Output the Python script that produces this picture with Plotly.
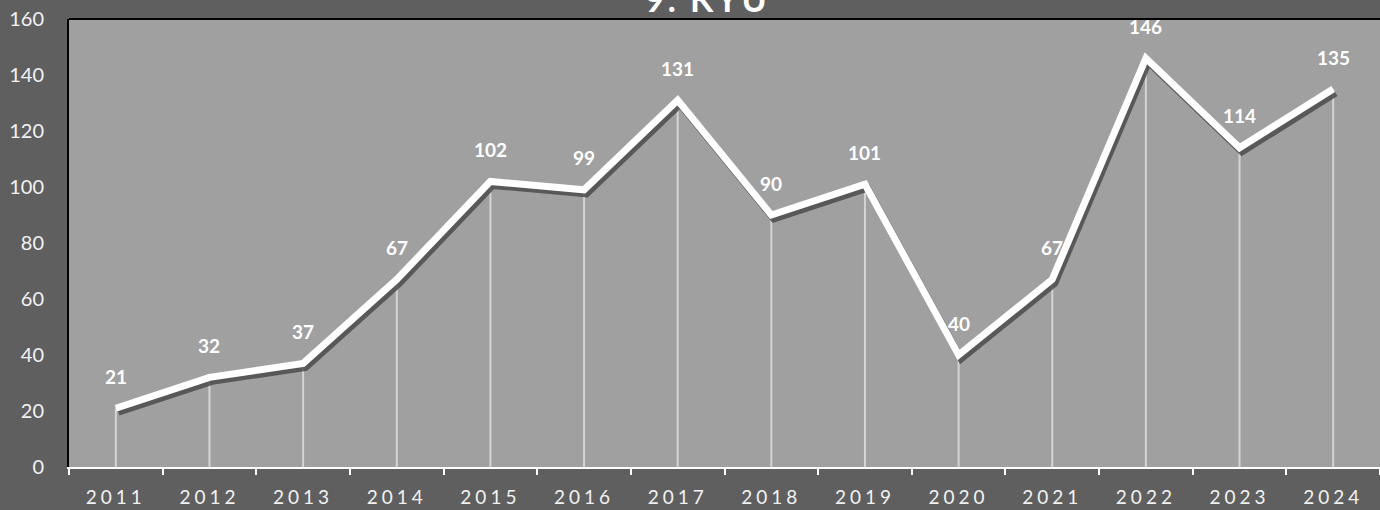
import plotly.graph_objects as go

years = ["2011", "2012", "2013", "2014", "2015", "2016", "2017",
         "2018", "2019", "2020", "2021", "2022", "2023", "2024"]
counts = [21, 32, 37, 67, 102, 99, 131, 90, 101, 40, 67, 146, 114, 135]
title_text = "9. KYU"

W, H = 1380, 510
ML, MR, MT, MB = 69, 0, 19, 43
plot_w = W - ML - MR
plot_h = H - MT - MB
YMAX = 160
N = len(years)
cat_px = plot_w / N
unit_px = plot_h / YMAX
idx = list(range(N))

# shadow offset expressed in axis units (pixels -> data)
sdx = 2.5 / cat_px
sdy = 4.0 / unit_px

FONT = "Lato, 'Open Sans', sans-serif"

fig = go.Figure()

# drop lines (error bars down to zero) on the main axes
fig.add_trace(go.Scatter(
    x=years, y=counts, mode="markers", marker=dict(size=0.1, opacity=0),
    error_y=dict(type="data", symmetric=False,
                 array=[0] * N, arrayminus=counts,
                 color="rgba(255,255,255,0.55)", thickness=2, width=0),
    hoverinfo="skip", showlegend=False))

# shadow line on an overlaid, slightly shifted axis pair
fig.add_trace(go.Scatter(
    x=idx, y=counts, mode="lines",
    line=dict(color="rgba(75,75,75,0.85)", width=7),
    xaxis="x2", yaxis="y2", hoverinfo="skip", showlegend=False))

# main white line on top
fig.add_trace(go.Scatter(
    x=idx, y=counts, mode="lines",
    line=dict(color="white", width=7),
    xaxis="x3", yaxis="y3", showlegend=False))

for i, v in zip(idx, counts):
    fig.add_annotation(x=i, y=v, xref="x", yref="y", text=f"<b>{v}</b>",
                       showarrow=False, yshift=32,
                       font=dict(family=FONT, size=19, color="white"))

fig.add_annotation(xref="paper", yref="paper", x=(707 - ML) / plot_w, y=1,
                   yanchor="bottom", yshift=-2, text=f"<b>{title_text}</b>",
                   showarrow=False, font=dict(family=FONT, size=34, color="white"))

fig.update_layout(
    width=W, height=H,
    margin=dict(l=ML, r=MR, t=MT, b=MB, pad=0, autoexpand=False),
    paper_bgcolor="#5f5f5f", plot_bgcolor="#a0a0a0",
    font=dict(family=FONT, color="#f2f2f2"),
    xaxis=dict(type="category", categoryorder="array", categoryarray=years,
               range=[-0.5, N - 0.5], automargin=False,
               showline=True, linecolor="white", linewidth=2,
               ticks="outside", tickson="boundaries", ticklen=6,
               tickcolor="white", tickwidth=2, showgrid=False,
               ticklabelstandoff=12,
               tickfont=dict(size=19, color="#f2f2f2")),
    yaxis=dict(range=[0, YMAX], dtick=20, showgrid=False, zeroline=False,
               automargin=False,
               showline=True, linecolor="black", linewidth=2,
               ticks="", tickfont=dict(size=20, color="#f2f2f2"),
               ticklabelstandoff=19),
    xaxis2=dict(overlaying="x", range=[-0.5 - sdx, N - 0.5 - sdx], visible=False),
    yaxis2=dict(overlaying="y", range=[sdy, YMAX + sdy], visible=False),
    xaxis3=dict(overlaying="x", range=[-0.5, N - 0.5], visible=False),
    yaxis3=dict(overlaying="y", range=[0, YMAX], visible=False),
    shapes=[dict(type="line", xref="paper", yref="paper", x0=0, x1=1, y0=1, y1=1,
                 line=dict(color="black", width=2))],
)

css = ("document.body.style.margin='0';"
       "document.body.style.background='#5f5f5f';"
       "var s=document.createElement('style');"
       "s.innerHTML='.xtick text{letter-spacing:4px}"
       " .annotation[data-index=\"14\"] text{letter-spacing:3px}';"
       "document.head.appendChild(s);")
fig.write_html("out.html", post_script=css, config={"displayModeBar": False})
